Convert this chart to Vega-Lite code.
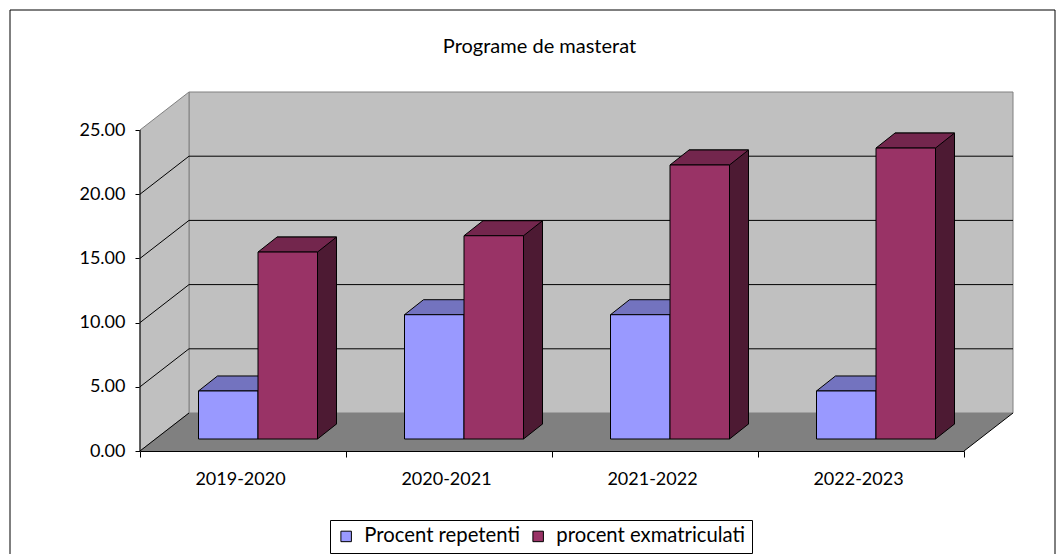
{
  "$schema": "https://vega.github.io/schema/vega-lite/v6.json",
  "width": 873,
  "height": 359,
  "autosize": {"type": "none"},
  "padding": {"left": 140, "top": 92, "right": 51, "bottom": 103},
  "background": "white",
  "title": {"text": "Programe de masterat", "font": "Lato", "fontSize": 20, "fontWeight": "normal", "color": "black", "anchor": "middle", "frame": "group", "baseline": "alphabetic", "offset": 0, "dx": -37, "dy": 65},
  "config": {
    "view": {"stroke": null},
    "font": "Lato",
    "legend": {"labelFont": "Lato", "labelFontSize": 20.3, "labelColor": "black", "labelLimit": 400, "symbolSize": 110, "symbolType": "square", "symbolStrokeColor": "black", "symbolStrokeWidth": 1}
  },
  "data": {"values": [
    {"year": "2019-2020", "series": "Procent repetenti", "value": 3.74},
    {"year": "2019-2020", "series": "procent exmatriculati", "value": 14.56},
    {"year": "2020-2021", "series": "Procent repetenti", "value": 9.68},
    {"year": "2020-2021", "series": "procent exmatriculati", "value": 15.83},
    {"year": "2021-2022", "series": "Procent repetenti", "value": 9.68},
    {"year": "2021-2022", "series": "procent exmatriculati", "value": 21.34},
    {"year": "2022-2023", "series": "Procent repetenti", "value": 3.74},
    {"year": "2022-2023", "series": "procent exmatriculati", "value": 22.66}
  ]},
  "layer": [
    {
      "data": {"values": [{}]},
      "mark": {"type": "point", "shape": "M -233 -441 L 812 -441 L 812 109 L -233 109 Z", "size": 4, "filled": false, "stroke": "#000000", "strokeWidth": 1, "opacity": 1},
      "encoding": {
        "x": {"datum": "2019-2020", "type": "nominal", "scale": {"type": "band", "domain": ["2019-2020", "2020-2021", "2021-2022", "2022-2023"], "range": [0, 824], "paddingInner": 0, "paddingOuter": 0}, "axis": {"title": null, "tickBand": "extent", "domainColor": "black", "tickColor": "black", "tickSize": 6, "labelFontSize": 18, "labelColor": "black", "labelAngle": 0, "labelPadding": 13, "labelOffset": -3, "grid": false}},
        "y": {"datum": 0, "type": "quantitative", "scale": {"domain": [0, 27.96], "nice": false, "zero": true}, "axis": {"title": null, "values": [0, 5, 10, 15, 20, 25], "format": ".2f", "domain": false, "grid": false, "tickColor": "black", "tickSize": 5, "labelFontSize": 18, "labelColor": "black", "labelPadding": 10}}
      }
    },
    {
      "data": {"values": [{}]},
      "mark": {"type": "point", "shape": "M -54 -38 L 770 -38 L 770 -359 L -54 -359 Z", "size": 4, "filled": true, "fill": "#C0C0C0", "stroke": "#808080", "strokeWidth": 1, "opacity": 1},
      "encoding": {
        "x": {"datum": "2019-2020", "type": "nominal"},
        "y": {"datum": 0, "type": "quantitative"}
      }
    },
    {
      "data": {"values": [{}]},
      "mark": {"type": "point", "shape": "M -103 -321 L -54 -359 L -54 -38 L -103 0 Z", "size": 4, "filled": true, "fill": "#C0C0C0", "stroke": "#808080", "strokeWidth": 1, "opacity": 1},
      "encoding": {
        "x": {"datum": "2019-2020", "type": "nominal"},
        "y": {"datum": 0, "type": "quantitative"}
      }
    },
    {
      "data": {"values": [{}]},
      "mark": {"type": "point", "shape": "M -103 0 L 721 0 L 770 -38 L -54 -38 Z", "size": 4, "filled": true, "fill": "#808080", "strokeWidth": 0, "opacity": 1},
      "encoding": {
        "x": {"datum": "2019-2020", "type": "nominal"},
        "y": {"datum": 0, "type": "quantitative"}
      }
    },
    {
      "data": {"values": [{}]},
      "mark": {"type": "point", "shape": "M -103 -64.2 L -54 -102.2 L 770 -102.2 M -103 -128.4 L -54 -166.4 L 770 -166.4 M -103 -192.6 L -54 -230.6 L 770 -230.6 M -103 -256.8 L -54 -294.8 L 770 -294.8 M -103 0 L -54 -38 M 721 0 L 770 -38 M -103 0 L -103 -321", "size": 4, "filled": false, "stroke": "#000000", "strokeWidth": 1, "opacity": 1},
      "encoding": {
        "x": {"datum": "2019-2020", "type": "nominal"},
        "y": {"datum": 0, "type": "quantitative"}
      }
    },
    {
      "transform": [{"filter": "datum.series == 'Procent repetenti'"}],
      "mark": {"type": "point", "shape": "M -29.75 0 L 29.75 0 L 48.75 -15 L -10.75 -15 Z", "size": 4, "filled": true, "fill": "#7373BF", "stroke": "#000000", "strokeWidth": 1, "opacity": 1, "xOffset": -14.75, "yOffset": -12},
      "encoding": {
        "x": {"field": "year", "type": "nominal"},
        "y": {"field": "value", "type": "quantitative"}
      }
    },
    {
      "transform": [{"filter": "datum.series == 'Procent repetenti'"}],
      "mark": {"type": "bar", "width": 59.5, "stroke": "#000000", "strokeWidth": 1, "xOffset": -14.75, "x2Offset": -14.75, "yOffset": -12, "y2Offset": -12},
      "encoding": {
        "x": {"field": "year", "type": "nominal"},
        "y": {"field": "value", "type": "quantitative"},
        "color": {"field": "series", "type": "nominal", "scale": {"domain": ["Procent repetenti", "procent exmatriculati"], "range": ["#9999FF", "#993366"]}, "legend": {"orient": "none", "legendX": 190, "legendY": 428, "direction": "horizontal", "title": null, "symbolType": "square", "symbolSize": 110, "symbolStrokeColor": "black", "symbolStrokeWidth": 1, "symbolOpacity": 1, "labelFont": "Lato", "labelFontSize": 20.3, "labelColor": "black", "labelLimit": 400, "strokeColor": "black", "fillColor": "white", "padding": 6, "columnPadding": 8, "labelOffset": 8}}
      }
    },
    {
      "transform": [{"filter": "datum.series == 'procent exmatriculati'"}],
      "mark": {"type": "bar", "width": 59.5, "fill": "#4D1A33", "stroke": "#000000", "strokeWidth": 1, "xOffset": 63.75, "x2Offset": 63.75, "yOffset": -27, "y2Offset": -27},
      "encoding": {
        "x": {"field": "year", "type": "nominal"},
        "y": {"field": "value", "type": "quantitative"}
      }
    },
    {
      "transform": [{"filter": "datum.series == 'procent exmatriculati'"}],
      "mark": {"type": "point", "shape": "M 48.75 -16 L 48.75 -15 L 29.75 0 L 29.75 -16", "size": 4, "filled": true, "fill": "#4D1A33", "stroke": "#000000", "strokeWidth": 1, "opacity": 1, "xOffset": 44.75, "yOffset": -12},
      "encoding": {
        "x": {"field": "year", "type": "nominal"},
        "y": {"datum": 0, "type": "quantitative"}
      }
    },
    {
      "transform": [{"filter": "datum.series == 'procent exmatriculati'"}],
      "mark": {"type": "point", "shape": "M -29.75 0 L 29.75 0 L 48.75 -15 L -10.75 -15 Z", "size": 4, "filled": true, "fill": "#73264D", "stroke": "#000000", "strokeWidth": 1, "opacity": 1, "xOffset": 44.75, "yOffset": -12},
      "encoding": {
        "x": {"field": "year", "type": "nominal"},
        "y": {"field": "value", "type": "quantitative"}
      }
    },
    {
      "transform": [{"filter": "datum.series == 'procent exmatriculati'"}],
      "mark": {"type": "bar", "width": 59.5, "stroke": "#000000", "strokeWidth": 1, "xOffset": 44.75, "x2Offset": 44.75, "yOffset": -12, "y2Offset": -12},
      "encoding": {
        "x": {"field": "year", "type": "nominal"},
        "y": {"field": "value", "type": "quantitative"},
        "color": {"field": "series", "type": "nominal"}
      }
    }
  ]
}
